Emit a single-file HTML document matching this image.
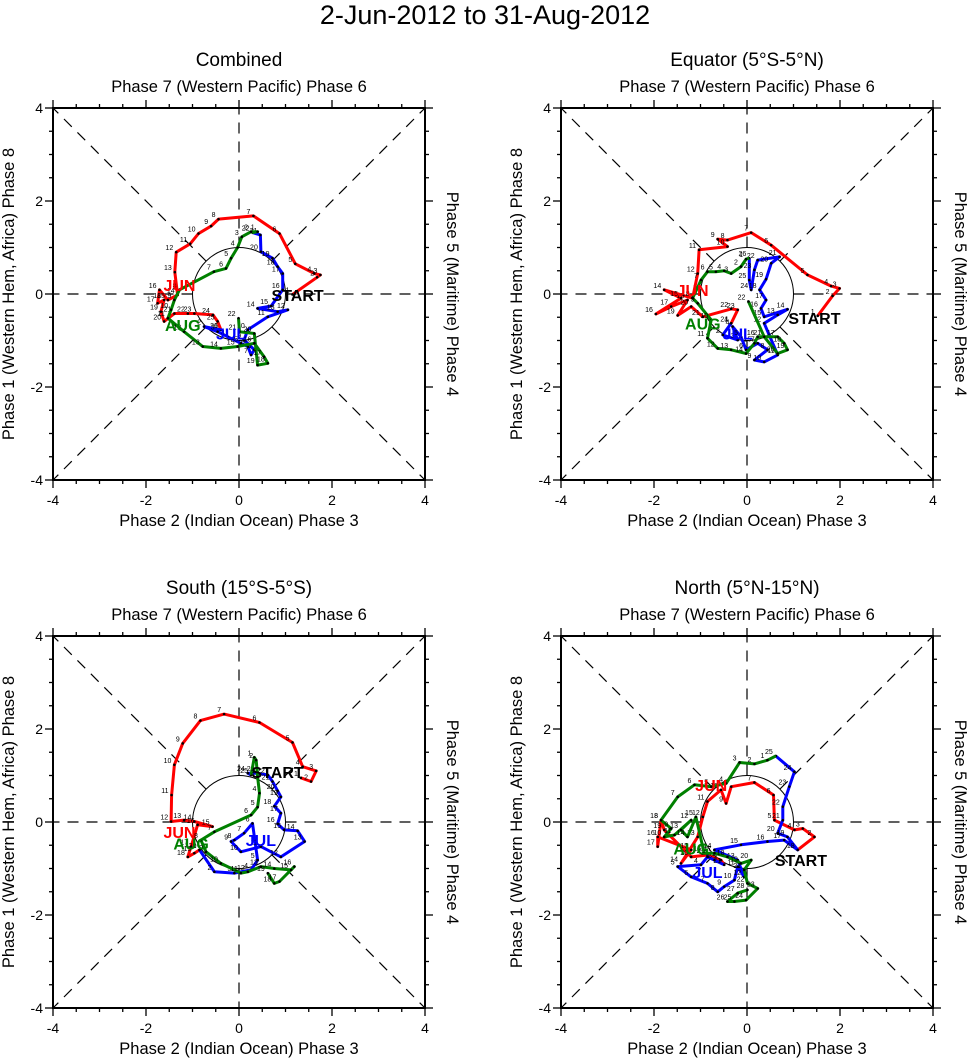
<!DOCTYPE html>
<html><head><meta charset="utf-8"><style>
html,body{margin:0;padding:0;background:#fff;}
svg{display:block;font-family:"Liberation Sans",sans-serif;}
</style></head><body>
<svg id="chart" width="971" height="1061" viewBox="0 0 971 1061" xmlns="http://www.w3.org/2000/svg">
<text x="485" y="24" font-size="27" text-anchor="middle">2-Jun-2012 to 31-Aug-2012</text>
</svg>
<script>
// ---- data (RMM1, RMM2) per panel ----
const panelTitles = ["Combined","Equator (5°S-5°N)","South (15°S-5°S)","North (5°N-15°N)"];
const tickValues = [-4,-2,0,2,4];

const p1JunX=[1.15,1.68,1.75,1.62,1.21,0.87,0.31,-0.44,-0.60,-0.87,-1.05,-1.35,-1.38,-1.32,-1.53,-1.71,-1.75,-1.61,-1.68,-1.61,-1.39,-1.10,-0.96,-0.56,-0.46,-0.39];
const p1JunY=[-0.01,0.36,0.41,0.44,0.65,1.30,1.68,1.61,1.46,1.30,1.08,0.90,0.47,-0.02,-0.13,0.09,-0.20,-0.13,-0.38,-0.59,-0.42,-0.42,-0.42,-0.45,-0.59,-0.77];
const p1JulX=[-0.39,-0.75,-0.46,-0.24,0.04,0.19,0.26,0.33,0.11,0.19,0.62,1.05,0.83,0.40,0.69,0.94,0.94,0.83,0.72,0.47,0.46,0.29];
const p1JulY=[-0.77,-0.70,-0.81,-0.92,-1.06,-1.13,-1.31,-1.20,-0.99,-0.77,-0.49,-0.34,-0.38,-0.31,-0.26,0.09,0.44,0.59,0.77,0.91,1.27,1.32];
const p1AugX=[0.40,0.26,0.06,-0.03,-0.17,-0.28,-0.54,-1.28,-1.39,-1.46,-1.53,-1.18,-0.78,-0.39,-0.03,0.33,0.54,0.62,0.40,0.33,0.01,-0.01];
const p1AugY=[1.34,1.34,1.23,1.00,0.77,0.55,0.48,0.09,-0.13,-0.34,-0.52,-0.81,-1.13,-1.17,-1.13,-1.06,-1.35,-1.49,-1.53,-0.85,-0.81,-0.52];

const p2JunX=[1.52,1.84,1.99,1.81,1.30,0.52,0.09,-0.42,-0.63,-0.42,-1.03,-1.06,-1.17,-1.78,-1.42,-1.96,-1.63,-1.28,-1.49,-1.20,-0.95,-0.34,-0.20,-0.34];
const p2JunY=[-0.47,-0.04,0.12,0.17,0.41,1.05,1.32,1.16,1.18,1.02,0.95,0.44,-0.09,0.09,-0.09,-0.43,-0.27,-0.13,-0.46,-0.27,-0.49,-0.32,-0.34,-0.63];
const p2JulX=[-0.34,-0.52,-0.20,-0.31,-0.13,-0.02,0.23,0.44,0.16,0.37,0.66,0.37,0.66,0.87,0.37,0.30,0.41,0.27,0.41,0.52,0.70,0.23,0.16,0.09,0.05,0.05];
const p2JulY=[-0.63,-0.88,-0.99,-0.70,-0.92,-1.20,-1.06,-1.20,-1.42,-1.46,-1.31,-0.63,-0.45,-0.33,-0.49,-0.31,-0.13,0.09,0.32,0.66,0.80,0.73,0.52,0.09,0.30,0.77];
const p2AugX=[-0.02,-0.13,-0.34,-0.49,-0.67,-0.85,-0.99,-1.17,-1.06,-0.77,-0.85,-0.63,-0.34,-0.02,0.16,0.23,0.66,0.80,0.87,0.66,0.37,0.03];
const p2AugY=[0.75,0.59,0.44,0.50,0.48,0.48,0.30,-0.09,-0.20,-0.56,-0.95,-1.17,-1.20,-1.28,-1.06,-0.92,-0.92,-1.06,-1.20,-1.28,-0.92,-0.16];

const p3JunX=[1.33,1.55,1.66,1.37,1.15,0.44,-0.32,-0.83,-1.21,-1.39,-1.45,-1.46,-1.18,-0.96,-0.57,-0.89,-1.03,-1.10,-0.96,-0.85];
const p3JunY=[0.95,0.87,1.10,1.19,1.71,2.14,2.32,2.18,1.69,1.23,0.58,0.01,0.04,0.01,-0.10,-0.06,-0.53,-0.75,-0.67,-0.60];
const p3JulX=[-0.85,-0.53,-0.10,0.26,0.40,0.29,0.11,-0.10,-0.17,0.04,0.47,0.90,1.41,1.26,0.97,0.83,0.90,0.76,0.90,0.83,0.72,0.62,0.40,0.19,0.26];
const p3JulY=[-0.60,-1.07,-1.10,-1.03,-0.82,-0.03,-0.24,-0.39,-0.42,-0.64,-0.53,-0.75,-0.42,-0.19,-0.17,-0.04,0.19,0.34,0.54,0.67,0.87,1.01,1.05,1.05,1.01];
const p3AugX=[0.33,0.37,0.40,0.44,0.40,0.26,-0.53,-0.82,-0.71,-0.39,0.04,0.19,0.47,0.76,1.12,1.19,0.87,0.76,0.62];
const p3AugY=[1.39,1.33,0.97,0.62,0.32,0.15,-0.21,-0.39,-0.64,-0.89,-1.10,-1.07,-0.96,-1.00,-1.03,-0.96,-1.28,-1.32,-1.10];

const p4JunX=[1.09,1.45,1.20,1.02,0.59,0.57,0.16,-0.34,-0.45,-0.56,-0.85,-0.95,-1.06,-1.42,-1.20,-1.92,-1.92,-1.85,-1.78,-1.20,-0.85,-0.56,-0.49];
const p4JunY=[-0.60,-0.32,-0.14,-0.17,0.04,0.58,0.85,0.76,0.40,0.69,0.44,0.11,-0.32,-0.89,-0.60,-0.32,-0.53,0.04,-0.17,-0.75,-0.71,-0.82,-0.92];
const p4JulX=[-0.49,-0.70,-0.85,-0.99,-1.49,-1.20,-0.85,-0.63,-0.49,-0.27,-0.20,-0.06,-0.20,-0.70,-0.13,0.44,0.80,1.09,0.87,0.66,0.77,0.77,0.91,1.02,0.62];
const p4JulY=[-0.92,-0.82,-0.75,-0.92,-0.96,-1.18,-1.32,-1.50,-1.39,-1.25,-0.96,-1.18,-0.82,-0.60,-0.49,-0.42,-0.39,-0.60,-0.32,-0.24,0.04,0.33,0.76,1.08,1.42];
const p4AugX=[0.44,0.16,-0.16,-0.45,-0.77,-1.13,-1.49,-1.85,-1.63,-1.78,-1.56,-1.20,-1.42,-1.28,-1.10,-0.92,-0.70,-0.42,-0.13,0.09,-0.06,0.01,0.23,-0.02,-0.27,-0.42,-0.20,0.01];
const p4AugY=[1.33,1.25,1.28,0.83,0.76,0.80,0.54,0.04,-0.14,-0.32,-0.28,0.04,-0.17,-0.32,0.11,-0.67,-0.67,-0.75,-0.89,-0.82,-1.03,-1.32,-1.43,-1.68,-1.71,-1.71,-1.53,-1.46];

const labelJun=[[-1.28,0.19],[-1.17,0.09],[-1.28,-0.21],[-0.77,0.80]];
const labelJul=[[-0.17,-0.85],[-0.20,-0.85],[0.47,-0.39],[-0.85,-1.07]];
const labelAug=[[-1.21,-0.67],[-0.95,-0.63],[-1.03,-0.46],[-1.20,-0.57]];
const labelStart=[[1.26,-0.02],[1.45,-0.52],[0.83,1.08],[1.16,-0.82]];

const series=[
 [[p1JunX,p1JunY],[p1JulX,p1JulY],[p1AugX,p1AugY]],
 [[p2JunX,p2JunY],[p2JulX,p2JulY],[p2AugX,p2AugY]],
 [[p3JunX,p3JunY],[p3JulX,p3JulY],[p3AugX,p3AugY]],
 [[p4JunX,p4JunY],[p4JulX,p4JulY],[p4AugX,p4AugY]]
];
const monthColors=["#ff0000","#0000ff","#008000"];
const monthNames=["jun","jul","aug"];

const NS="http://www.w3.org/2000/svg";
const svg=document.getElementById('chart');
function mk(tag,attrs,parent){const e=document.createElementNS(NS,tag);for(const k in attrs)e.setAttribute(k,attrs[k]);(parent||svg).appendChild(e);return e;}

const boxes=[{l:53,t:108},{l:561,t:108},{l:53,t:636},{l:561,t:636}];
const W=372, U=W/8;

boxes.forEach((b,pi)=>{
  const g=mk('g',{});
  
  
  const cx=b.l+W/2, cy=b.t+W/2;
  const sx=v=>cx+v*U, sy=v=>cy-v*U;
  let t=mk('text',{x:cx,y:b.t-42,'font-size':19,'text-anchor':'middle'},g);t.textContent=panelTitles[pi];
  
  t=mk('text',{x:cx,y:b.t-16,'font-size':16.5,'text-anchor':'middle'},g);t.textContent="Phase 7 (Western Pacific) Phase 6";
  
  t=mk('text',{x:cx,y:b.t+W+46,'font-size':16.5,'text-anchor':'middle'},g);t.textContent="Phase 2 (Indian Ocean) Phase 3";
  
  t=mk('text',{x:0,y:0,'font-size':16.5,'text-anchor':'middle',transform:`translate(${b.l-39},${cy}) rotate(-90)`},g);t.textContent="Phase 1 (Western Hem, Africa) Phase 8";
  
  t=mk('text',{x:0,y:0,'font-size':16.5,'text-anchor':'middle',transform:`translate(${b.l+W+22},${cy}) rotate(90)`},g);t.textContent="Phase 5 (Maritime) Phase 4";
  
  const dirs=[[1,0],[-1,0],[0,1],[0,-1],[1,1],[1,-1],[-1,1],[-1,-1]];
  dirs.forEach(d=>{
    const ex=d[0]*4, ey=d[1]*4, n=Math.hypot(d[0],d[1]);
    const l=mk('line',{x1:sx(d[0]/n),y1:sy(d[1]/n),x2:sx(ex),y2:sy(ey),stroke:'#000','stroke-width':1.2,'stroke-dasharray':'11,8'},g);
    
  });
  const c=mk('circle',{cx:cx,cy:cy,r:U,fill:'none',stroke:'#000','stroke-width':1},g);
  
  for(let v=-4;v<=4.001;v+=0.5){
    const major=Math.abs(v%2)<0.01, len=major?8:4;
    mk('line',{x1:sx(v),y1:b.t,x2:sx(v),y2:b.t-len,stroke:'#000','stroke-width':1.3},g);
    mk('line',{x1:sx(v),y1:b.t+W,x2:sx(v),y2:b.t+W+len,stroke:'#000','stroke-width':1.3},g);
    mk('line',{x1:b.l,y1:sy(v),x2:b.l-len,y2:sy(v),stroke:'#000','stroke-width':1.3},g);
    mk('line',{x1:b.l+W,y1:sy(v),x2:b.l+W+len,y2:sy(v),stroke:'#000','stroke-width':1.3},g);
  }
  tickValues.forEach(v=>{
    let tx=mk('text',{x:sx(v),y:b.t+W+25,'font-size':14,'text-anchor':'middle'},g);tx.textContent=v;
    
    let ty=mk('text',{x:b.l-10,y:sy(v)+5,'font-size':14,'text-anchor':'end'},g);ty.textContent=v;
    
  });
  let prevEnd=null;
  series[pi].forEach((s,mi)=>{
    let xs=s[0].slice(), ys=s[1].slice();
    let pts=xs.map((x,i)=>sx(x).toFixed(1)+','+sy(ys[i]).toFixed(1));
    if(prevEnd) pts.unshift(prevEnd);
    const pl=mk('polyline',{points:pts.join(' '),fill:'none',stroke:monthColors[mi],'stroke-width':3,'stroke-linejoin':'round'},g);
    
    
    prevEnd=sx(xs[xs.length-1]).toFixed(1)+','+sy(ys[ys.length-1]).toFixed(1);
    xs.forEach((x,i)=>{
      const d=mk('circle',{cx:sx(x),cy:sy(ys[i]),r:1.3,fill:'#000'},g);
      
      const n=mk('text',{x:sx(x)-3,y:sy(ys[i])-2,'font-size':7,'text-anchor':'end'},g);
      n.textContent=String(i+1);
      
    });
  });
  const lab=(arr,txt,col,name)=>{const e=mk('text',{x:sx(arr[pi][0]),y:sy(arr[pi][1])+6,'font-size':16,'font-weight':'bold','text-anchor':'middle',fill:col},g);e.textContent=txt;
    };
  lab(labelJun,'JUN','#ff0000','jun-label');
  lab(labelJul,'JUL','#0000ff','jul-label');
  lab(labelAug,'AUG','#008000','aug-label');
  lab(labelStart,'START','#000','start-label');
  const r=mk('rect',{x:b.l,y:b.t,width:W,height:W,fill:'none',stroke:'#000','stroke-width':2},g);
  
});
</script>
</body></html>
